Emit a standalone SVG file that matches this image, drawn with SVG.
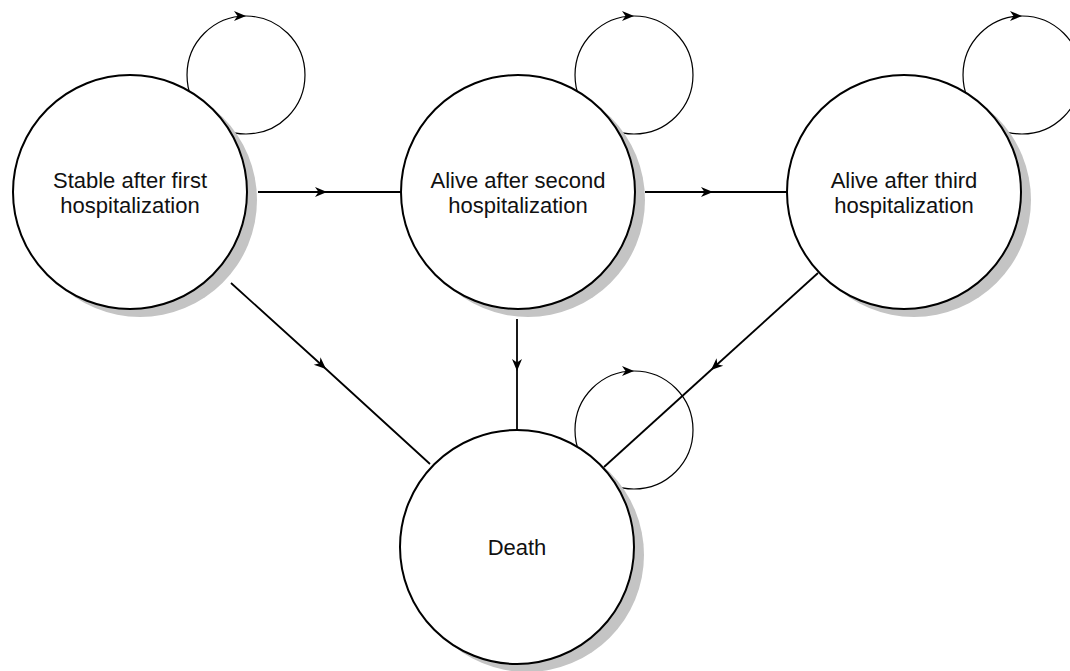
<svg xmlns="http://www.w3.org/2000/svg" width="1070" height="671" viewBox="0 0 1070 671">
<defs>
<marker id="arr" markerUnits="userSpaceOnUse" markerWidth="16" markerHeight="14" viewBox="-14 -7 16 14" refX="0" refY="0" orient="auto">
<path d="M0,0 L-12,-5 L-8.5,0 L-12,5 Z" fill="#000"/>
</marker>
<style>
.node{fill:#fff;stroke:#000;stroke-width:2}
.shadow{fill:#c4c4c4;stroke:none}
.loop{fill:none;stroke:#000;stroke-width:1.2;marker-mid:url(#arr)}
.edge{fill:none;stroke:#000;stroke-width:1.8;marker-mid:url(#arr)}
.lbl{font-family:"Liberation Sans",Arial,sans-serif;font-size:22px;fill:#111;text-anchor:middle}
</style>
</defs>
<rect width="1070" height="671" fill="#fff"/>
<g id="loops">
<path class="loop" d="M246,134 A59,59 0 0 1 246,16 A59,59 0 0 1 246,134"/>
<path class="loop" d="M634,134 A59,59 0 0 1 634,16 A59,59 0 0 1 634,134"/>
<path class="loop" d="M1022,134 A59,59 0 0 1 1022,16 A59,59 0 0 1 1022,134"/>
<path class="loop" d="M634,489 A59,59 0 0 1 634,371 A59,59 0 0 1 634,489"/>
</g>
<g id="n1">
<circle class="shadow" cx="140" cy="200" r="117"/>
<circle class="node" cx="130" cy="192" r="117"/>
<text class="lbl" x="130" y="188">Stable after first</text>
<text class="lbl" x="130" y="213">hospitalization</text>
</g>
<g id="n2">
<circle class="shadow" cx="528" cy="200" r="117"/>
<circle class="node" cx="518" cy="192" r="117"/>
<text class="lbl" x="518" y="188">Alive after second</text>
<text class="lbl" x="518" y="213">hospitalization</text>
</g>
<g id="n3">
<circle class="shadow" cx="914" cy="200" r="117"/>
<circle class="node" cx="904" cy="192" r="117"/>
<text class="lbl" x="904" y="188">Alive after third</text>
<text class="lbl" x="904" y="213">hospitalization</text>
</g>
<g id="death">
<circle class="shadow" cx="527" cy="555" r="117"/>
<circle class="node" cx="517" cy="547" r="117"/>
<text class="lbl" x="517" y="555">Death</text>
</g>
<g id="connectors">
<path class="edge" d="M258,192 L327,192 L402,192"/>
<path class="edge" d="M645,192 L713,192 L788,192"/>
<path class="edge" d="M231,283 L326,369 L430,464"/>
<path class="edge" d="M517,319 L517,371 L517,430"/>
<path class="edge" d="M818,273 L711,370 L604,467"/>
</g>
</svg>
